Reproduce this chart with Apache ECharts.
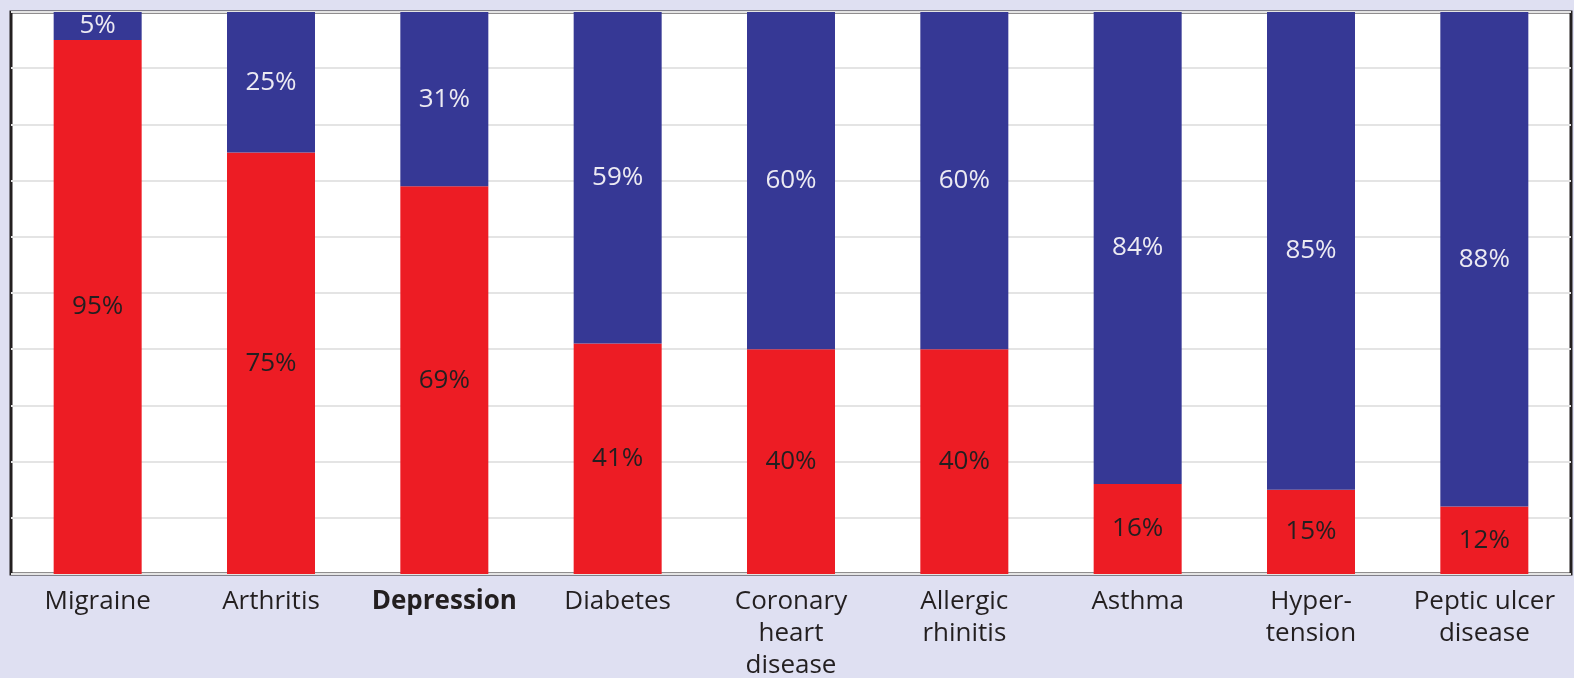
<!DOCTYPE html>
<html>
<head>
<meta charset="utf-8">
<script src="https://cdn.jsdelivr.net/npm/echarts@6/dist/echarts.min.js"></script>
<style>
  html, body { margin: 0; padding: 0; background: #dfe0f2; }
  #chart { width: 1574px; height: 678px; }
</style>
</head>
<body>
<div id="chart"></div>
<script>
	// categories and shares (%)
	var conditions = ['Migraine', 'Arthritis', 'Depression', 'Diabetes', 'Coronary\nheart\ndisease',
	                  'Allergic\nrhinitis', 'Asthma', 'Hyper-\ntension', 'Peptic ulcer\ndisease'];
	var redShare  = [95, 75, 69, 41, 40, 40, 16, 15, 12];
	var blueShare = [5, 25, 31, 59, 60, 60, 84, 85, 88];

	var chart = echarts.init(document.getElementById('chart'));

	var option = {
	    backgroundColor: '#dfe0f2',
	    textStyle: { fontFamily: 'Open Sans' },
	    grid: {
	        left: 11,
	        right: 3,
	        top: 12,
	        bottom: 104,
	        outerBoundsMode: 'none',
	        containLabel: false,
	        show: true,
	        backgroundColor: '#ffffff',
	        borderColor: '#231f20',
	        borderWidth: 3
	    },
	    xAxis: {
	        type: 'category',
	        data: conditions,
	        axisLine: { show: false },
	        axisTick: { show: false },
	        axisLabel: {
	            interval: 0,
	            margin: 12,
	            color: '#231f20',
	            fontSize: 26,
	            lineHeight: 32,
	            fontFamily: 'Open Sans',
	            formatter: function (v) {
	                return v === 'Depression' ? '{b|' + v + '}' : v;
	            },
	            rich: {
	                b: { fontWeight: 'bold', fontSize: 26, color: '#231f20', fontFamily: 'Open Sans' }
	            }
	        }
	    },
	    yAxis: {
	        type: 'value',
	        min: 0,
	        max: 100,
	        interval: 10,
	        axisLine: { show: false },
	        axisTick: { show: false },
	        axisLabel: { show: false },
	        splitLine: { lineStyle: { color: '#e4e4e4', width: 2 } }
	    },
	    series: [
	        {
	            name: 'red',
	            type: 'bar',
	            stack: 'total',
	            barWidth: 88,
	            data: redShare,
	            itemStyle: { color: '#ed1c24' },
	            label: {
	                show: true,
	                position: 'inside',
	                formatter: '{c}%',
	                color: '#231f20',
	                fontSize: 26,
	                fontFamily: 'Open Sans'
	            }
	        },
	        {
	            name: 'blue',
	            type: 'bar',
	            stack: 'total',
	            barWidth: 88,
	            data: blueShare,
	            itemStyle: { color: '#363895' },
	            label: {
	                show: true,
	                position: 'inside',
	                formatter: '{c}%',
	                color: '#eceaf2',
	                fontSize: 26,
	                fontFamily: 'Open Sans'
	            }
	        }
	    ]
	};

	chart.setOption(option);
</script>
</body>
</html>
